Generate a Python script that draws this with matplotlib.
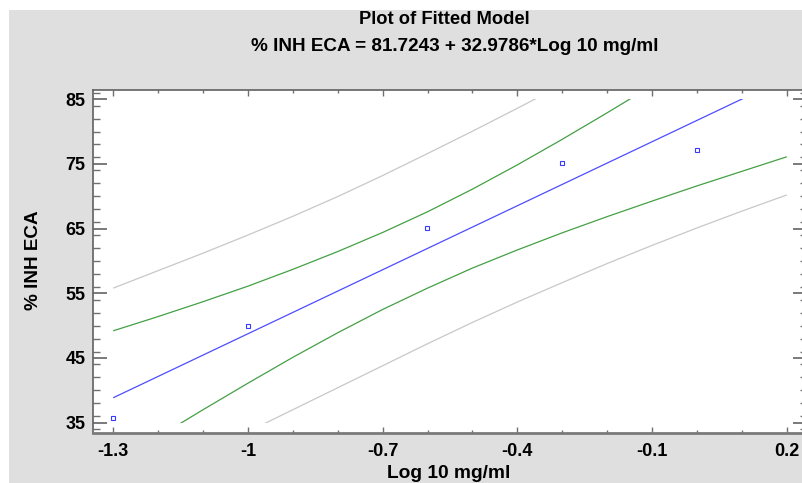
import matplotlib
matplotlib.use("Agg")
import matplotlib.pyplot as plt
from matplotlib.patches import Rectangle
from matplotlib.ticker import MultipleLocator, FixedLocator

plt.rcParams['font.family'] = ['Liberation Sans', 'DejaVu Sans']

# ---- data ----
x_obs = [-1.301, -1.0, -0.602, -0.301, 0.0]
y_obs = [35.7, 50.0, 65.1, 75.2, 77.2]

fit_x = [-1.3, 0.2]
fit_y = [38.85, 88.32]

upper_pred_x = [-1.3, -1.2, -1.1, -1.0, -0.9, -0.8, -0.7, -0.6, -0.5, -0.4, -0.3]
upper_pred_y = [55.8, 58.5, 61.2, 64.0, 66.9, 69.95, 73.2, 76.6, 80.05, 83.6, 87.2]

upper_conf_x = [-1.3, -1.2, -1.1, -1.0, -0.9, -0.8, -0.7, -0.6, -0.5, -0.4, -0.3, -0.2, -0.1]
upper_conf_y = [49.2, 51.4, 53.7, 56.1, 58.7, 61.45, 64.4, 67.6, 71.1, 74.85, 78.8, 82.9, 87.1]

lower_conf_x = [-1.2, -1.1, -1.0, -0.9, -0.8, -0.7, -0.6, -0.5, -0.4, -0.3, -0.2, -0.1, 0.0, 0.1, 0.2]
lower_conf_y = [32.8, 37.0, 41.1, 45.1, 48.9, 52.5, 55.8, 58.9, 61.7, 64.35, 66.85, 69.25, 71.6, 73.85, 76.1]

lower_pred_x = [-1.0, -0.9, -0.8, -0.7, -0.6, -0.5, -0.4, -0.3, -0.2, -0.1, 0.0, 0.1, 0.2]
lower_pred_y = [33.6, 37.0, 40.4, 43.8, 47.2, 50.5, 53.65, 56.65, 59.6, 62.4, 65.1, 67.7, 70.2]

x_ticks = [-1.3, -1.0, -0.7, -0.4, -0.1, 0.2]
x_ticklabels = ['-1.3', '-1', '-0.7', '-0.4', '-0.1', '0.2']
y_ticks = [35, 45, 55, 65, 75, 85]

title1 = 'Plot of Fitted Model'
title2 = '% INH ECA = 81.7243 + 32.9786*Log 10 mg/ml'
xlabel = 'Log 10 mg/ml'
ylabel = '% INH ECA'

# ---- figure ----
W, H = 802, 483
fig = plt.figure(figsize=(W / 100, H / 100), dpi=100)
fig.patch.set_facecolor('white')
fig.add_artist(Rectangle((9 / W, 0), 1, (H - 10) / H, transform=fig.transFigure,
                         facecolor='#dfdfdf', edgecolor='none', zorder=-10))

ax = fig.add_axes([93 / W, 50.3 / H, 714 / W, 343.2 / H])
ax.set_facecolor('white')
ax.set_xlim(-1.345, 0.245)
ax.set_ylim(33.45, 86.5)

clip = Rectangle((-1.345, 35), 1.59, 50, transform=ax.transData)

lw = 0.9
for xs, ys, c in [(upper_pred_x, upper_pred_y, '#c8c8c8'),
                  (lower_pred_x, lower_pred_y, '#c8c8c8'),
                  (upper_conf_x, upper_conf_y, '#44a044'),
                  (lower_conf_x, lower_conf_y, '#44a044'),
                  (fit_x, fit_y, '#4d4dff')]:
    ln, = ax.plot(xs, ys, color=c, lw=lw, solid_capstyle='butt')
    ln.set_clip_path(clip)

ax.plot(x_obs, y_obs, linestyle='none', marker='s', markersize=3.2,
        markerfacecolor='white', markeredgecolor='#3a3aff', markeredgewidth=0.8)

# ticks
ax.xaxis.set_major_locator(FixedLocator(x_ticks))
ax.set_xticklabels(x_ticklabels)
ax.xaxis.set_minor_locator(MultipleLocator(0.1))
ax.yaxis.set_major_locator(FixedLocator(y_ticks))
ax.yaxis.set_minor_locator(MultipleLocator(2))

tc = '#707070'
ax.tick_params(axis='both', which='both', direction='in', top=True, right=True, color=tc)
ax.tick_params(axis='x', which='major', length=4.3, width=1.0, pad=7.5)
ax.tick_params(axis='x', which='minor', length=2.2, width=1.0)
ax.tick_params(axis='y', which='major', length=10, width=1.3, pad=5.5)
ax.tick_params(axis='y', which='minor', length=5, width=1.0)
for lab in ax.get_xticklabels() + ax.get_yticklabels():
    lab.set_fontsize(13)
    lab.set_fontweight('bold')
    lab.set_color('black')

for s in ['left', 'top', 'right']:
    ax.spines[s].set_color('#606060')
    ax.spines[s].set_linewidth(1.2)
ax.spines['bottom'].set_color('#7a7a7a')
ax.spines['bottom'].set_linewidth(2.0)

fig.text(444 / W, 1 - 19.5 / H, title1, ha='center', va='center', fontsize=13.2, fontweight='bold')
fig.text(455 / W, 1 - 46.5 / H, title2, ha='center', va='center', fontsize=13.6, fontweight='bold')
fig.text(449 / W, 1 - 474 / H, xlabel, ha='center', va='center', fontsize=13.8, fontweight='bold')
fig.text(34 / W, 1 - 260 / H, ylabel, ha='center', va='center', rotation=90, fontsize=13.6, fontweight='bold')

fig.savefig('out.png', dpi=100, facecolor=fig.get_facecolor())
